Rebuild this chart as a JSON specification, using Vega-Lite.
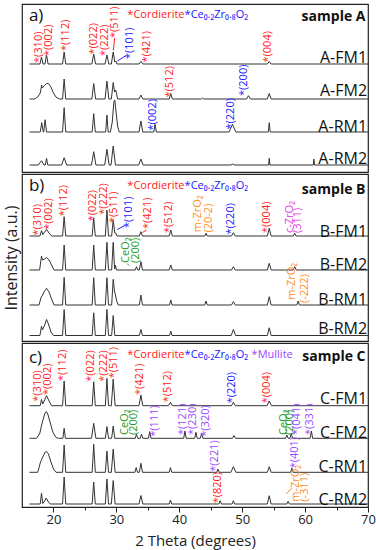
{
"$schema":"https://vega.github.io/schema/vega-lite/v6.json",
"padding":{"left":2,"top":3,"right":9,"bottom":2},
"spacing":0,
"resolve":{"scale":{"x":"independent","y":"independent"}},
"config":{"font":"Open Sans","view":{"stroke":"#222","strokeWidth":1.2},"text":{"font":"Open Sans"}},
"datasets":{
"traces":[
{"p":"a","s":"A-FM1","x":16.2,"y":108},{"p":"a","s":"A-FM1","x":17.85,"y":108},{"p":"a","s":"A-FM1","x":18.1,"y":115},{"p":"a","s":"A-FM1","x":18.35,"y":108},{"p":"a","s":"A-FM1","x":18.65,"y":108},{"p":"a","s":"A-FM1","x":18.9,"y":117},{"p":"a","s":"A-FM1","x":19.15,"y":108},{"p":"a","s":"A-FM1","x":21.45,"y":108},{"p":"a","s":"A-FM1","x":21.7,"y":120},{"p":"a","s":"A-FM1","x":21.95,"y":108},{"p":"a","s":"A-FM1","x":26.1,"y":108},{"p":"a","s":"A-FM1","x":26.4,"y":118},{"p":"a","s":"A-FM1","x":26.7,"y":108},{"p":"a","s":"A-FM1","x":28.2,"y":108},{"p":"a","s":"A-FM1","x":28.5,"y":117},{"p":"a","s":"A-FM1","x":28.8,"y":108},{"p":"a","s":"A-FM1","x":29.2,"y":108},{"p":"a","s":"A-FM1","x":29.5,"y":120},{"p":"a","s":"A-FM1","x":29.75,"y":110},{"p":"a","s":"A-FM1","x":29.9,"y":111},{"p":"a","s":"A-FM1","x":30.1,"y":108},{"p":"a","s":"A-FM1","x":33.6,"y":108},{"p":"a","s":"A-FM1","x":33.9,"y":110.5},{"p":"a","s":"A-FM1","x":34.2,"y":108},{"p":"a","s":"A-FM1","x":54.0,"y":108},{"p":"a","s":"A-FM1","x":54.3,"y":110.5},{"p":"a","s":"A-FM1","x":54.6,"y":108},{"p":"a","s":"A-FM1","x":70,"y":108},
{"p":"a","s":"A-FM2","x":16.2,"y":73},{"p":"a","s":"A-FM2","x":17.0,"y":73},{"p":"a","s":"A-FM2","x":17.5,"y":75},{"p":"a","s":"A-FM2","x":17.9,"y":79},{"p":"a","s":"A-FM2","x":18.05,"y":84},{"p":"a","s":"A-FM2","x":18.12,"y":87},{"p":"a","s":"A-FM2","x":18.2,"y":84},{"p":"a","s":"A-FM2","x":18.5,"y":86},{"p":"a","s":"A-FM2","x":18.9,"y":88.5},{"p":"a","s":"A-FM2","x":19.2,"y":88.5},{"p":"a","s":"A-FM2","x":19.6,"y":85},{"p":"a","s":"A-FM2","x":20.0,"y":79},{"p":"a","s":"A-FM2","x":20.4,"y":75},{"p":"a","s":"A-FM2","x":20.9,"y":73},{"p":"a","s":"A-FM2","x":21.45,"y":73},{"p":"a","s":"A-FM2","x":21.7,"y":93},{"p":"a","s":"A-FM2","x":21.95,"y":73},{"p":"a","s":"A-FM2","x":26.1,"y":73},{"p":"a","s":"A-FM2","x":26.4,"y":88.5},{"p":"a","s":"A-FM2","x":26.7,"y":73},{"p":"a","s":"A-FM2","x":28.2,"y":73},{"p":"a","s":"A-FM2","x":28.5,"y":91},{"p":"a","s":"A-FM2","x":28.8,"y":73},{"p":"a","s":"A-FM2","x":29.2,"y":73},{"p":"a","s":"A-FM2","x":29.5,"y":89.5},{"p":"a","s":"A-FM2","x":29.72,"y":80},{"p":"a","s":"A-FM2","x":29.9,"y":82},{"p":"a","s":"A-FM2","x":30.2,"y":73},{"p":"a","s":"A-FM2","x":33.6,"y":73},{"p":"a","s":"A-FM2","x":33.9,"y":77},{"p":"a","s":"A-FM2","x":34.2,"y":73},{"p":"a","s":"A-FM2","x":38.4,"y":73},{"p":"a","s":"A-FM2","x":38.65,"y":78.5},{"p":"a","s":"A-FM2","x":38.9,"y":73},{"p":"a","s":"A-FM2","x":43.5,"y":73},{"p":"a","s":"A-FM2","x":43.7,"y":74},{"p":"a","s":"A-FM2","x":43.9,"y":73},{"p":"a","s":"A-FM2","x":50.7,"y":73},{"p":"a","s":"A-FM2","x":51.0,"y":76.3},{"p":"a","s":"A-FM2","x":51.3,"y":73},{"p":"a","s":"A-FM2","x":54.0,"y":73},{"p":"a","s":"A-FM2","x":54.3,"y":78.5},{"p":"a","s":"A-FM2","x":54.6,"y":73},{"p":"a","s":"A-FM2","x":70,"y":73},
{"p":"a","s":"A-RM1","x":16.2,"y":40},{"p":"a","s":"A-RM1","x":17.9,"y":40},{"p":"a","s":"A-RM1","x":18.14,"y":49.3},{"p":"a","s":"A-RM1","x":18.38,"y":40},{"p":"a","s":"A-RM1","x":18.45,"y":40},{"p":"a","s":"A-RM1","x":18.67,"y":52.3},{"p":"a","s":"A-RM1","x":18.9,"y":40},{"p":"a","s":"A-RM1","x":21.45,"y":40},{"p":"a","s":"A-RM1","x":21.7,"y":64.3},{"p":"a","s":"A-RM1","x":21.95,"y":40},{"p":"a","s":"A-RM1","x":26.15,"y":40},{"p":"a","s":"A-RM1","x":26.4,"y":58.3},{"p":"a","s":"A-RM1","x":26.65,"y":40},{"p":"a","s":"A-RM1","x":28.3,"y":40},{"p":"a","s":"A-RM1","x":28.5,"y":57},{"p":"a","s":"A-RM1","x":28.7,"y":40},{"p":"a","s":"A-RM1","x":29.05,"y":40},{"p":"a","s":"A-RM1","x":29.35,"y":50},{"p":"a","s":"A-RM1","x":29.6,"y":70},{"p":"a","s":"A-RM1","x":29.75,"y":72},{"p":"a","s":"A-RM1","x":29.95,"y":60},{"p":"a","s":"A-RM1","x":30.2,"y":46},{"p":"a","s":"A-RM1","x":30.45,"y":40},{"p":"a","s":"A-RM1","x":33.6,"y":40},{"p":"a","s":"A-RM1","x":33.9,"y":51},{"p":"a","s":"A-RM1","x":34.2,"y":40},{"p":"a","s":"A-RM1","x":35.95,"y":40},{"p":"a","s":"A-RM1","x":36.15,"y":47.7},{"p":"a","s":"A-RM1","x":36.35,"y":40},{"p":"a","s":"A-RM1","x":47.9,"y":40},{"p":"a","s":"A-RM1","x":48.2,"y":44},{"p":"a","s":"A-RM1","x":48.45,"y":47.7},{"p":"a","s":"A-RM1","x":48.7,"y":44},{"p":"a","s":"A-RM1","x":49.0,"y":40},{"p":"a","s":"A-RM1","x":54.15,"y":40},{"p":"a","s":"A-RM1","x":54.3,"y":49.3},{"p":"a","s":"A-RM1","x":54.45,"y":40},{"p":"a","s":"A-RM1","x":70,"y":40},
{"p":"a","s":"A-RM2","x":16.2,"y":7},{"p":"a","s":"A-RM2","x":17.6,"y":7},{"p":"a","s":"A-RM2","x":18.1,"y":11.3},{"p":"a","s":"A-RM2","x":18.5,"y":7},{"p":"a","s":"A-RM2","x":18.7,"y":7},{"p":"a","s":"A-RM2","x":18.9,"y":13.7},{"p":"a","s":"A-RM2","x":19.1,"y":7},{"p":"a","s":"A-RM2","x":21.3,"y":7},{"p":"a","s":"A-RM2","x":21.7,"y":14.3},{"p":"a","s":"A-RM2","x":22.1,"y":7},{"p":"a","s":"A-RM2","x":26.05,"y":7},{"p":"a","s":"A-RM2","x":26.4,"y":20.3},{"p":"a","s":"A-RM2","x":26.75,"y":7},{"p":"a","s":"A-RM2","x":28.15,"y":7},{"p":"a","s":"A-RM2","x":28.5,"y":22.7},{"p":"a","s":"A-RM2","x":28.85,"y":7},{"p":"a","s":"A-RM2","x":29.15,"y":7},{"p":"a","s":"A-RM2","x":29.5,"y":26},{"p":"a","s":"A-RM2","x":29.85,"y":7},{"p":"a","s":"A-RM2","x":33.55,"y":7},{"p":"a","s":"A-RM2","x":33.9,"y":13},{"p":"a","s":"A-RM2","x":34.25,"y":7},{"p":"a","s":"A-RM2","x":48.2,"y":7},{"p":"a","s":"A-RM2","x":48.5,"y":8},{"p":"a","s":"A-RM2","x":48.8,"y":7},{"p":"a","s":"A-RM2","x":54.2,"y":7},{"p":"a","s":"A-RM2","x":54.3,"y":13.7},{"p":"a","s":"A-RM2","x":54.4,"y":7},{"p":"a","s":"A-RM2","x":61.3,"y":7},{"p":"a","s":"A-RM2","x":61.4,"y":13},{"p":"a","s":"A-RM2","x":61.5,"y":7},{"p":"a","s":"A-RM2","x":70,"y":7},
{"p":"b","s":"B-FM1","x":16.2,"y":105},{"p":"b","s":"B-FM1","x":17.85,"y":105},{"p":"b","s":"B-FM1","x":18.1,"y":110.3},{"p":"b","s":"B-FM1","x":18.3,"y":106.5},{"p":"b","s":"B-FM1","x":18.6,"y":109},{"p":"b","s":"B-FM1","x":18.9,"y":111.7},{"p":"b","s":"B-FM1","x":19.3,"y":108},{"p":"b","s":"B-FM1","x":19.7,"y":105},{"p":"b","s":"B-FM1","x":21.45,"y":105},{"p":"b","s":"B-FM1","x":21.7,"y":124.3},{"p":"b","s":"B-FM1","x":21.95,"y":105},{"p":"b","s":"B-FM1","x":26.15,"y":105},{"p":"b","s":"B-FM1","x":26.4,"y":123.3},{"p":"b","s":"B-FM1","x":26.65,"y":105},{"p":"b","s":"B-FM1","x":28.25,"y":105},{"p":"b","s":"B-FM1","x":28.5,"y":131},{"p":"b","s":"B-FM1","x":28.75,"y":105},{"p":"b","s":"B-FM1","x":29.25,"y":105},{"p":"b","s":"B-FM1","x":29.5,"y":121},{"p":"b","s":"B-FM1","x":29.75,"y":108},{"p":"b","s":"B-FM1","x":29.9,"y":108},{"p":"b","s":"B-FM1","x":30.1,"y":105},{"p":"b","s":"B-FM1","x":33.65,"y":105},{"p":"b","s":"B-FM1","x":33.9,"y":109.3},{"p":"b","s":"B-FM1","x":34.15,"y":105},{"p":"b","s":"B-FM1","x":38.4,"y":105},{"p":"b","s":"B-FM1","x":38.65,"y":111},{"p":"b","s":"B-FM1","x":38.9,"y":105},{"p":"b","s":"B-FM1","x":44.05,"y":105},{"p":"b","s":"B-FM1","x":44.25,"y":107.7},{"p":"b","s":"B-FM1","x":44.45,"y":105},{"p":"b","s":"B-FM1","x":48.3,"y":105},{"p":"b","s":"B-FM1","x":48.6,"y":108.3},{"p":"b","s":"B-FM1","x":48.9,"y":105},{"p":"b","s":"B-FM1","x":54.0,"y":105},{"p":"b","s":"B-FM1","x":54.3,"y":112.7},{"p":"b","s":"B-FM1","x":54.6,"y":105},{"p":"b","s":"B-FM1","x":58.15,"y":105},{"p":"b","s":"B-FM1","x":58.35,"y":107.7},{"p":"b","s":"B-FM1","x":58.55,"y":105},{"p":"b","s":"B-FM1","x":70,"y":105},
{"p":"b","s":"B-FM2","x":16.2,"y":71},{"p":"b","s":"B-FM2","x":17.8,"y":71},{"p":"b","s":"B-FM2","x":18.1,"y":85},{"p":"b","s":"B-FM2","x":18.25,"y":81},{"p":"b","s":"B-FM2","x":18.6,"y":82},{"p":"b","s":"B-FM2","x":18.9,"y":83.5},{"p":"b","s":"B-FM2","x":19.3,"y":81},{"p":"b","s":"B-FM2","x":19.7,"y":76},{"p":"b","s":"B-FM2","x":20.1,"y":71},{"p":"b","s":"B-FM2","x":21.45,"y":71},{"p":"b","s":"B-FM2","x":21.7,"y":96},{"p":"b","s":"B-FM2","x":21.95,"y":71},{"p":"b","s":"B-FM2","x":26.15,"y":71},{"p":"b","s":"B-FM2","x":26.4,"y":96},{"p":"b","s":"B-FM2","x":26.65,"y":71},{"p":"b","s":"B-FM2","x":28.25,"y":71},{"p":"b","s":"B-FM2","x":28.5,"y":98.7},{"p":"b","s":"B-FM2","x":28.75,"y":71},{"p":"b","s":"B-FM2","x":29.25,"y":71},{"p":"b","s":"B-FM2","x":29.5,"y":98.7},{"p":"b","s":"B-FM2","x":29.72,"y":72},{"p":"b","s":"B-FM2","x":29.85,"y":76},{"p":"b","s":"B-FM2","x":30.0,"y":71},{"p":"b","s":"B-FM2","x":33.0,"y":71},{"p":"b","s":"B-FM2","x":33.2,"y":74.3},{"p":"b","s":"B-FM2","x":33.4,"y":71},{"p":"b","s":"B-FM2","x":33.65,"y":71},{"p":"b","s":"B-FM2","x":33.9,"y":79.3},{"p":"b","s":"B-FM2","x":34.15,"y":71},{"p":"b","s":"B-FM2","x":38.4,"y":71},{"p":"b","s":"B-FM2","x":38.65,"y":76},{"p":"b","s":"B-FM2","x":38.9,"y":71},{"p":"b","s":"B-FM2","x":48.3,"y":71},{"p":"b","s":"B-FM2","x":48.6,"y":74.3},{"p":"b","s":"B-FM2","x":48.9,"y":71},{"p":"b","s":"B-FM2","x":54.0,"y":71},{"p":"b","s":"B-FM2","x":54.3,"y":77.7},{"p":"b","s":"B-FM2","x":54.6,"y":71},{"p":"b","s":"B-FM2","x":58.1,"y":71},{"p":"b","s":"B-FM2","x":58.35,"y":74.3},{"p":"b","s":"B-FM2","x":58.6,"y":71},{"p":"b","s":"B-FM2","x":70,"y":71},
{"p":"b","s":"B-RM1","x":16.2,"y":36},{"p":"b","s":"B-RM1","x":17.7,"y":36},{"p":"b","s":"B-RM1","x":18.05,"y":44},{"p":"b","s":"B-RM1","x":18.2,"y":45},{"p":"b","s":"B-RM1","x":18.5,"y":49},{"p":"b","s":"B-RM1","x":18.9,"y":52.7},{"p":"b","s":"B-RM1","x":19.3,"y":49},{"p":"b","s":"B-RM1","x":19.7,"y":42},{"p":"b","s":"B-RM1","x":20.1,"y":36},{"p":"b","s":"B-RM1","x":21.45,"y":36},{"p":"b","s":"B-RM1","x":21.7,"y":63.7},{"p":"b","s":"B-RM1","x":21.95,"y":36},{"p":"b","s":"B-RM1","x":26.15,"y":36},{"p":"b","s":"B-RM1","x":26.4,"y":63.3},{"p":"b","s":"B-RM1","x":26.65,"y":36},{"p":"b","s":"B-RM1","x":28.25,"y":36},{"p":"b","s":"B-RM1","x":28.5,"y":63.3},{"p":"b","s":"B-RM1","x":28.75,"y":36},{"p":"b","s":"B-RM1","x":29.25,"y":36},{"p":"b","s":"B-RM1","x":29.5,"y":61.7},{"p":"b","s":"B-RM1","x":29.7,"y":50},{"p":"b","s":"B-RM1","x":29.85,"y":46},{"p":"b","s":"B-RM1","x":30.05,"y":40},{"p":"b","s":"B-RM1","x":30.3,"y":36},{"p":"b","s":"B-RM1","x":33.65,"y":36},{"p":"b","s":"B-RM1","x":33.9,"y":46},{"p":"b","s":"B-RM1","x":34.15,"y":36},{"p":"b","s":"B-RM1","x":38.45,"y":36},{"p":"b","s":"B-RM1","x":38.65,"y":41},{"p":"b","s":"B-RM1","x":38.85,"y":36},{"p":"b","s":"B-RM1","x":44.05,"y":36},{"p":"b","s":"B-RM1","x":44.25,"y":40},{"p":"b","s":"B-RM1","x":44.45,"y":36},{"p":"b","s":"B-RM1","x":48.3,"y":36},{"p":"b","s":"B-RM1","x":48.6,"y":39.3},{"p":"b","s":"B-RM1","x":48.9,"y":36},{"p":"b","s":"B-RM1","x":54.0,"y":36},{"p":"b","s":"B-RM1","x":54.3,"y":44.3},{"p":"b","s":"B-RM1","x":54.6,"y":36},{"p":"b","s":"B-RM1","x":58.7,"y":36},{"p":"b","s":"B-RM1","x":58.9,"y":40},{"p":"b","s":"B-RM1","x":59.1,"y":36},{"p":"b","s":"B-RM1","x":70,"y":36},
{"p":"b","s":"B-RM2","x":16.2,"y":5.5},{"p":"b","s":"B-RM2","x":17.85,"y":5.5},{"p":"b","s":"B-RM2","x":18.1,"y":14.8},{"p":"b","s":"B-RM2","x":18.25,"y":11},{"p":"b","s":"B-RM2","x":18.6,"y":16},{"p":"b","s":"B-RM2","x":18.9,"y":21.5},{"p":"b","s":"B-RM2","x":19.2,"y":17},{"p":"b","s":"B-RM2","x":19.6,"y":9},{"p":"b","s":"B-RM2","x":20.0,"y":5.5},{"p":"b","s":"B-RM2","x":21.45,"y":5.5},{"p":"b","s":"B-RM2","x":21.7,"y":31.5},{"p":"b","s":"B-RM2","x":21.95,"y":5.5},{"p":"b","s":"B-RM2","x":26.15,"y":5.5},{"p":"b","s":"B-RM2","x":26.4,"y":28.2},{"p":"b","s":"B-RM2","x":26.65,"y":5.5},{"p":"b","s":"B-RM2","x":28.25,"y":5.5},{"p":"b","s":"B-RM2","x":28.5,"y":31.5},{"p":"b","s":"B-RM2","x":28.75,"y":5.5},{"p":"b","s":"B-RM2","x":29.25,"y":5.5},{"p":"b","s":"B-RM2","x":29.5,"y":25.5},{"p":"b","s":"B-RM2","x":29.75,"y":5.5},{"p":"b","s":"B-RM2","x":33.65,"y":5.5},{"p":"b","s":"B-RM2","x":33.9,"y":11.5},{"p":"b","s":"B-RM2","x":34.15,"y":5.5},{"p":"b","s":"B-RM2","x":38.45,"y":5.5},{"p":"b","s":"B-RM2","x":38.65,"y":9.8},{"p":"b","s":"B-RM2","x":38.85,"y":5.5},{"p":"b","s":"B-RM2","x":48.25,"y":5.5},{"p":"b","s":"B-RM2","x":48.6,"y":11.5},{"p":"b","s":"B-RM2","x":48.95,"y":5.5},{"p":"b","s":"B-RM2","x":54.0,"y":5.5},{"p":"b","s":"B-RM2","x":54.3,"y":13.2},{"p":"b","s":"B-RM2","x":54.6,"y":5.5},{"p":"b","s":"B-RM2","x":70,"y":5.5},
{"p":"c","s":"C-FM1","x":16.2,"y":101.3},{"p":"c","s":"C-FM1","x":17.9,"y":101.3},{"p":"c","s":"C-FM1","x":18.1,"y":107.6},{"p":"c","s":"C-FM1","x":18.3,"y":103},{"p":"c","s":"C-FM1","x":18.6,"y":107},{"p":"c","s":"C-FM1","x":18.9,"y":111.3},{"p":"c","s":"C-FM1","x":19.3,"y":106},{"p":"c","s":"C-FM1","x":19.7,"y":101.3},{"p":"c","s":"C-FM1","x":21.45,"y":101.3},{"p":"c","s":"C-FM1","x":21.7,"y":126},{"p":"c","s":"C-FM1","x":21.95,"y":101.3},{"p":"c","s":"C-FM1","x":26.15,"y":101.3},{"p":"c","s":"C-FM1","x":26.4,"y":125.3},{"p":"c","s":"C-FM1","x":26.65,"y":101.3},{"p":"c","s":"C-FM1","x":28.25,"y":101.3},{"p":"c","s":"C-FM1","x":28.5,"y":128.6},{"p":"c","s":"C-FM1","x":28.75,"y":101.3},{"p":"c","s":"C-FM1","x":29.2,"y":101.3},{"p":"c","s":"C-FM1","x":29.5,"y":128},{"p":"c","s":"C-FM1","x":29.8,"y":101.3},{"p":"c","s":"C-FM1","x":33.6,"y":101.3},{"p":"c","s":"C-FM1","x":33.9,"y":112},{"p":"c","s":"C-FM1","x":34.2,"y":101.3},{"p":"c","s":"C-FM1","x":38.3,"y":101.3},{"p":"c","s":"C-FM1","x":38.6,"y":104.6},{"p":"c","s":"C-FM1","x":38.9,"y":101.3},{"p":"c","s":"C-FM1","x":48.3,"y":101.3},{"p":"c","s":"C-FM1","x":48.6,"y":104.6},{"p":"c","s":"C-FM1","x":48.9,"y":101.3},{"p":"c","s":"C-FM1","x":53.95,"y":101.3},{"p":"c","s":"C-FM1","x":54.3,"y":106},{"p":"c","s":"C-FM1","x":54.65,"y":101.3},{"p":"c","s":"C-FM1","x":70,"y":101.3},
{"p":"c","s":"C-FM2","x":16.2,"y":68.7},{"p":"c","s":"C-FM2","x":17.3,"y":68.7},{"p":"c","s":"C-FM2","x":17.8,"y":73},{"p":"c","s":"C-FM2","x":18.2,"y":84},{"p":"c","s":"C-FM2","x":18.6,"y":93},{"p":"c","s":"C-FM2","x":18.85,"y":95.4},{"p":"c","s":"C-FM2","x":19.1,"y":93},{"p":"c","s":"C-FM2","x":19.5,"y":84},{"p":"c","s":"C-FM2","x":19.9,"y":75},{"p":"c","s":"C-FM2","x":20.4,"y":69.5},{"p":"c","s":"C-FM2","x":20.8,"y":68.7},{"p":"c","s":"C-FM2","x":21.5,"y":68.7},{"p":"c","s":"C-FM2","x":21.7,"y":78.7},{"p":"c","s":"C-FM2","x":21.9,"y":68.7},{"p":"c","s":"C-FM2","x":26.05,"y":68.7},{"p":"c","s":"C-FM2","x":26.4,"y":83.7},{"p":"c","s":"C-FM2","x":26.75,"y":68.7},{"p":"c","s":"C-FM2","x":28.25,"y":68.7},{"p":"c","s":"C-FM2","x":28.5,"y":80.4},{"p":"c","s":"C-FM2","x":28.75,"y":68.7},{"p":"c","s":"C-FM2","x":29.25,"y":68.7},{"p":"c","s":"C-FM2","x":29.5,"y":81},{"p":"c","s":"C-FM2","x":29.75,"y":68.7},{"p":"c","s":"C-FM2","x":33.0,"y":68.7},{"p":"c","s":"C-FM2","x":33.2,"y":72.7},{"p":"c","s":"C-FM2","x":33.4,"y":68.7},{"p":"c","s":"C-FM2","x":33.8,"y":68.7},{"p":"c","s":"C-FM2","x":34.0,"y":73},{"p":"c","s":"C-FM2","x":34.2,"y":68.7},{"p":"c","s":"C-FM2","x":35.1,"y":68.7},{"p":"c","s":"C-FM2","x":35.3,"y":75.4},{"p":"c","s":"C-FM2","x":35.5,"y":68.7},{"p":"c","s":"C-FM2","x":40.7,"y":68.7},{"p":"c","s":"C-FM2","x":40.9,"y":76},{"p":"c","s":"C-FM2","x":41.1,"y":68.7},{"p":"c","s":"C-FM2","x":42.45,"y":68.7},{"p":"c","s":"C-FM2","x":42.65,"y":74.7},{"p":"c","s":"C-FM2","x":42.85,"y":68.7},{"p":"c","s":"C-FM2","x":43.35,"y":68.7},{"p":"c","s":"C-FM2","x":43.55,"y":73.7},{"p":"c","s":"C-FM2","x":43.75,"y":68.7},{"p":"c","s":"C-FM2","x":48.45,"y":68.7},{"p":"c","s":"C-FM2","x":48.7,"y":71.4},{"p":"c","s":"C-FM2","x":48.95,"y":68.7},{"p":"c","s":"C-FM2","x":56.9,"y":68.7},{"p":"c","s":"C-FM2","x":57.1,"y":72},{"p":"c","s":"C-FM2","x":57.3,"y":68.7},{"p":"c","s":"C-FM2","x":57.6,"y":68.7},{"p":"c","s":"C-FM2","x":57.8,"y":73.7},{"p":"c","s":"C-FM2","x":58.0,"y":68.7},{"p":"c","s":"C-FM2","x":60.8,"y":68.7},{"p":"c","s":"C-FM2","x":61.0,"y":76},{"p":"c","s":"C-FM2","x":61.2,"y":68.7},{"p":"c","s":"C-FM2","x":70,"y":68.7},
{"p":"c","s":"C-RM1","x":16.2,"y":34.7},{"p":"c","s":"C-RM1","x":17.5,"y":34.7},{"p":"c","s":"C-RM1","x":17.9,"y":44},{"p":"c","s":"C-RM1","x":18.05,"y":46.5},{"p":"c","s":"C-RM1","x":18.3,"y":50},{"p":"c","s":"C-RM1","x":18.7,"y":55},{"p":"c","s":"C-RM1","x":18.9,"y":55.5},{"p":"c","s":"C-RM1","x":19.2,"y":53},{"p":"c","s":"C-RM1","x":19.6,"y":45},{"p":"c","s":"C-RM1","x":20.0,"y":38},{"p":"c","s":"C-RM1","x":20.4,"y":34.7},{"p":"c","s":"C-RM1","x":21.45,"y":34.7},{"p":"c","s":"C-RM1","x":21.7,"y":62},{"p":"c","s":"C-RM1","x":21.95,"y":34.7},{"p":"c","s":"C-RM1","x":26.15,"y":34.7},{"p":"c","s":"C-RM1","x":26.4,"y":62.7},{"p":"c","s":"C-RM1","x":26.65,"y":34.7},{"p":"c","s":"C-RM1","x":28.25,"y":34.7},{"p":"c","s":"C-RM1","x":28.5,"y":56},{"p":"c","s":"C-RM1","x":28.75,"y":34.7},{"p":"c","s":"C-RM1","x":29.2,"y":34.7},{"p":"c","s":"C-RM1","x":29.5,"y":58},{"p":"c","s":"C-RM1","x":29.8,"y":34.7},{"p":"c","s":"C-RM1","x":32.95,"y":34.7},{"p":"c","s":"C-RM1","x":33.15,"y":39.4},{"p":"c","s":"C-RM1","x":33.35,"y":34.7},{"p":"c","s":"C-RM1","x":33.65,"y":34.7},{"p":"c","s":"C-RM1","x":33.9,"y":43.7},{"p":"c","s":"C-RM1","x":34.15,"y":34.7},{"p":"c","s":"C-RM1","x":38.4,"y":34.7},{"p":"c","s":"C-RM1","x":38.6,"y":39.4},{"p":"c","s":"C-RM1","x":38.8,"y":34.7},{"p":"c","s":"C-RM1","x":45.95,"y":34.7},{"p":"c","s":"C-RM1","x":46.15,"y":38},{"p":"c","s":"C-RM1","x":46.35,"y":34.7},{"p":"c","s":"C-RM1","x":48.2,"y":34.7},{"p":"c","s":"C-RM1","x":48.6,"y":40.3},{"p":"c","s":"C-RM1","x":49.0,"y":34.7},{"p":"c","s":"C-RM1","x":54.0,"y":34.7},{"p":"c","s":"C-RM1","x":54.3,"y":40.3},{"p":"c","s":"C-RM1","x":54.6,"y":34.7},{"p":"c","s":"C-RM1","x":57.7,"y":34.7},{"p":"c","s":"C-RM1","x":57.9,"y":38.7},{"p":"c","s":"C-RM1","x":58.1,"y":34.7},{"p":"c","s":"C-RM1","x":70,"y":34.7},
{"p":"c","s":"C-RM2","x":16.2,"y":3},{"p":"c","s":"C-RM2","x":17.9,"y":3},{"p":"c","s":"C-RM2","x":18.1,"y":14},{"p":"c","s":"C-RM2","x":18.3,"y":3.5},{"p":"c","s":"C-RM2","x":18.5,"y":5},{"p":"c","s":"C-RM2","x":18.85,"y":9},{"p":"c","s":"C-RM2","x":19.2,"y":5},{"p":"c","s":"C-RM2","x":19.5,"y":3},{"p":"c","s":"C-RM2","x":21.45,"y":3},{"p":"c","s":"C-RM2","x":21.7,"y":30},{"p":"c","s":"C-RM2","x":21.95,"y":3},{"p":"c","s":"C-RM2","x":26.15,"y":3},{"p":"c","s":"C-RM2","x":26.4,"y":25},{"p":"c","s":"C-RM2","x":26.65,"y":3},{"p":"c","s":"C-RM2","x":28.25,"y":3},{"p":"c","s":"C-RM2","x":28.5,"y":28},{"p":"c","s":"C-RM2","x":28.75,"y":3},{"p":"c","s":"C-RM2","x":29.2,"y":3},{"p":"c","s":"C-RM2","x":29.5,"y":26.5},{"p":"c","s":"C-RM2","x":29.8,"y":3},{"p":"c","s":"C-RM2","x":33.6,"y":3},{"p":"c","s":"C-RM2","x":33.9,"y":11.5},{"p":"c","s":"C-RM2","x":34.2,"y":3},{"p":"c","s":"C-RM2","x":38.4,"y":3},{"p":"c","s":"C-RM2","x":38.6,"y":7},{"p":"c","s":"C-RM2","x":38.8,"y":3},{"p":"c","s":"C-RM2","x":46.3,"y":3},{"p":"c","s":"C-RM2","x":46.5,"y":6.3},{"p":"c","s":"C-RM2","x":46.7,"y":3},{"p":"c","s":"C-RM2","x":48.4,"y":3},{"p":"c","s":"C-RM2","x":48.6,"y":6.3},{"p":"c","s":"C-RM2","x":48.8,"y":3},{"p":"c","s":"C-RM2","x":54.0,"y":3},{"p":"c","s":"C-RM2","x":54.3,"y":11.3},{"p":"c","s":"C-RM2","x":54.6,"y":3},{"p":"c","s":"C-RM2","x":57.1,"y":3},{"p":"c","s":"C-RM2","x":57.3,"y":5.7},{"p":"c","s":"C-RM2","x":57.5,"y":3},{"p":"c","s":"C-RM2","x":70,"y":3}
],
"labels":[
{"p":"a","x":17.66,"y":109,"t":"*(310)","c":"cord"},{"p":"a","x":19.36,"y":116,"t":"*(002)","c":"cord"},{"p":"a","x":22.0,"y":121,"t":"*(112)","c":"cord"},{"p":"a","x":26.5,"y":117.5,"t":"*(022)","c":"cord"},{"p":"a","x":28.2,"y":116,"t":"*(222)","c":"cord"},{"p":"a","x":29.8,"y":134,"t":"*(511)","c":"cord"},{"p":"a","x":32.15,"y":113,"t":"*(101)","c":"cz"},{"p":"a","x":34.9,"y":109.5,"t":"*(421)","c":"cord"},{"p":"a","x":54.15,"y":109.5,"t":"*(004)","c":"cord"},{"p":"a","x":38.5,"y":74.5,"t":"*(512)","c":"cord"},{"p":"a","x":50.35,"y":76,"t":"*(200)","c":"cz"},{"p":"a","x":35.9,"y":41.5,"t":"*(002)","c":"cz"},{"p":"a","x":48.2,"y":42.5,"t":"*(220)","c":"cz"},
{"p":"b","x":17.5,"y":105.5,"t":"*(310)","c":"cord"},{"p":"b","x":19.26,"y":111.3,"t":"*(002)","c":"cord"},{"p":"b","x":21.75,"y":124.7,"t":"*(112)","c":"cord"},{"p":"b","x":26.28,"y":119.7,"t":"*(022)","c":"cord"},{"p":"b","x":28.1,"y":126.3,"t":"*(222)","c":"cord"},{"p":"b","x":29.7,"y":118,"t":"*(511)","c":"cord"},{"p":"b","x":32.0,"y":113,"t":"*(101)","c":"cz"},{"p":"b","x":35.05,"y":112,"t":"*(421)","c":"cord"},{"p":"b","x":38.4,"y":108,"t":"*(512)","c":"cord"},{"p":"b","x":42.9,"y":108.7,"t":"m-ZrO₂","c":"mzr"},{"p":"b","x":44.75,"y":108.5,"t":"(20-2)","c":"mzr"},{"p":"b","x":48.24,"y":106.5,"t":"*(220)","c":"cz"},{"p":"b","x":54.0,"y":108,"t":"*(004)","c":"cord"},{"p":"b","x":57.6,"y":108,"t":"c-ZrO₂","c":"czr"},{"p":"b","x":58.8,"y":108,"t":"(311)","c":"czr"},{"p":"b","x":31.6,"y":78,"t":"CeO₂","c":"ceo2"},{"p":"b","x":33.2,"y":78,"t":"(200)","c":"ceo2"},{"p":"b","x":57.9,"y":41.3,"t":"m-ZrO₂","c":"mzr"},{"p":"b","x":60.05,"y":38,"t":"(-222)","c":"mzr"},
{"p":"c","x":17.6,"y":105.3,"t":"*(310)","c":"cord"},{"p":"c","x":19.2,"y":112,"t":"*(002)","c":"cord"},{"p":"c","x":21.5,"y":126,"t":"*(112)","c":"cord"},{"p":"c","x":25.9,"y":125.3,"t":"*(022)","c":"cord"},{"p":"c","x":28.0,"y":125.3,"t":"*(222)","c":"cord"},{"p":"c","x":29.7,"y":128.7,"t":"*(511)","c":"cord"},{"p":"c","x":33.7,"y":112,"t":"*(421)","c":"cord"},{"p":"c","x":38.25,"y":104.7,"t":"*(512)","c":"cord"},{"p":"c","x":48.35,"y":103.7,"t":"*(220)","c":"cz"},{"p":"c","x":53.9,"y":103.7,"t":"*(004)","c":"cord"},{"p":"c","x":31.4,"y":72,"t":"CeO₂","c":"ceo2"},{"p":"c","x":32.8,"y":72,"t":"(200)","c":"ceo2"},{"p":"c","x":36.2,"y":70.3,"t":"*(111)","c":"mull"},{"p":"c","x":40.6,"y":72,"t":"*(121)","c":"mull"},{"p":"c","x":42.2,"y":72,"t":"*(230)","c":"mull"},{"p":"c","x":44.2,"y":70.3,"t":"*(320)","c":"mull"},{"p":"c","x":56.6,"y":72,"t":"CeO₂","c":"ceo2"},{"p":"c","x":57.6,"y":72,"t":"(200)","c":"ceo2"},{"p":"c","x":58.7,"y":72,"t":"*(041)","c":"mull"},{"p":"c","x":60.85,"y":72,"t":"*(331)","c":"mull"},{"p":"c","x":45.7,"y":35.3,"t":"*(221)","c":"mull"},{"p":"c","x":58.45,"y":38.7,"t":"*(401)","c":"mull"},{"p":"c","x":46.1,"y":3.7,"t":"*(820)","c":"cord"},{"p":"c","x":58.6,"y":5.3,"t":"m-ZrO₂","c":"mzr"},{"p":"c","x":60.05,"y":5.3,"t":"(-311)","c":"mzr"}
],
"arrows":[
{"p":"a","x":29.72,"y":134,"x2":29.52,"y2":121.5,"c":"cord"},{"p":"a","x":31.6,"y":116.7,"x2":30.16,"y2":111,"c":"cz"},
{"p":"b","x":31.5,"y":116,"x2":30.15,"y2":111.5,"c":"cz"},{"p":"b","x":34.8,"y":111,"x2":34.15,"y2":108.5,"c":"cord"},{"p":"b","x":31.75,"y":77.3,"x2":32.0,"y2":75.5,"c":"ceo2"},
{"p":"c","x":57.9,"y":19,"x2":57.0,"y2":13,"c":"mzr"}
],
"notes":[
{"p":"a","k":"letter","x":16.1,"y":156,"t":"a)"},{"p":"b","k":"letter","x":16.1,"y":155,"t":"b)"},{"p":"c","k":"letter","x":16.1,"y":148.7,"t":"c)"},
{"p":"a","k":"sample","x":69.6,"y":155,"t":"sample A"},{"p":"b","k":"sample","x":69.6,"y":151.3,"t":"sample B"},{"p":"c","k":"sample","x":69.6,"y":150.3,"t":"sample C"},
{"p":"a","k":"legend","x":31.75,"y":157,"t":"*Cordierite","c":"cord"},{"p":"a","k":"legend","x":40.85,"y":157,"t":"*Ce₀.₂Zr₀.₈O₂","c":"cz"},
{"p":"b","k":"legend","x":31.75,"y":155,"t":"*Cordierite","c":"cord"},{"p":"b","k":"legend","x":40.85,"y":155,"t":"*Ce₀.₂Zr₀.₈O₂","c":"cz"},
{"p":"c","k":"legend","x":31.75,"y":152,"t":"*Cordierite","c":"cord"},{"p":"c","k":"legend","x":40.85,"y":152,"t":"*Ce₀.₂Zr₀.₈O₂","c":"cz"},{"p":"c","k":"legend","x":51.5,"y":152,"t":"*Mullite","c":"mull"},
{"p":"a","k":"name","x":69.85,"y":109,"t":"A-FM1"},{"p":"a","k":"name","x":69.85,"y":76,"t":"A-FM2"},{"p":"a","k":"name","x":69.85,"y":40.5,"t":"A-RM1"},{"p":"a","k":"name","x":69.85,"y":8.5,"t":"A-RM2"},
{"p":"b","k":"name","x":69.85,"y":104.5,"t":"B-FM1"},{"p":"b","k":"name","x":69.85,"y":70.6,"t":"B-FM2"},{"p":"b","k":"name","x":69.85,"y":35.6,"t":"B-RM1"},{"p":"b","k":"name","x":69.85,"y":7.3,"t":"B-RM2"},
{"p":"c","k":"name","x":69.85,"y":103,"t":"C-FM1"},{"p":"c","k":"name","x":69.85,"y":69,"t":"C-FM2"},{"p":"c","k":"name","x":69.85,"y":34.6,"t":"C-RM1"},{"p":"c","k":"name","x":69.85,"y":2.3,"t":"C-RM2"}
]
},
"vconcat":[
{"width":346,"height":168,
"encoding":{"x":{"field":"x","type":"quantitative","scale":{"domain":[15,70],"nice":false,"zero":false},"axis":null},"y":{"field":"y","type":"quantitative","scale":{"domain":[0,168],"nice":false,"zero":false},"axis":null}},
"layer":[
{"data":{"name":"traces"},"transform":[{"filter":"datum.p==='a'"}],"mark":{"type":"line","stroke":"#333","strokeWidth":1},"encoding":{"detail":{"field":"s"}}},
{"data":{"name":"arrows"},"transform":[{"filter":"datum.p==='a'"}],"mark":{"type":"rule","strokeWidth":1},"encoding":{"x2":{"field":"x2"},"y2":{"field":"y2"},"color":{"field":"c","type":"nominal","scale":{"domain":["cord","cz","mull","ceo2","mzr","czr"],"range":["#ff2020","#2020ff","#9b45ff","#1a9a1a","#ff8c1a","#e03ce0"]},"legend":null}}},
{"data":{"name":"labels"},"transform":[{"filter":"datum.p==='a'"}],"mark":{"type":"text","angle":270,"align":"left","baseline":"middle","fontSize":11},"encoding":{"text":{"field":"t"},"color":{"field":"c","type":"nominal","scale":{"domain":["cord","cz","mull","ceo2","mzr","czr"],"range":["#ff2020","#2020ff","#9b45ff","#1a9a1a","#ff8c1a","#e03ce0"]},"legend":null}}},
{"data":{"name":"notes"},"transform":[{"filter":"datum.p==='a' && datum.k==='legend'"}],"mark":{"type":"text","align":"left","baseline":"middle","fontSize":11},"encoding":{"text":{"field":"t"},"color":{"field":"c","type":"nominal","scale":{"domain":["cord","cz","mull","ceo2","mzr","czr"],"range":["#ff2020","#2020ff","#9b45ff","#1a9a1a","#ff8c1a","#e03ce0"]},"legend":null}}},
{"data":{"name":"notes"},"transform":[{"filter":"datum.p==='a' && datum.k==='letter'"}],"mark":{"type":"text","align":"left","baseline":"middle","fontSize":17,"color":"#111"},"encoding":{"text":{"field":"t"}}},
{"data":{"name":"notes"},"transform":[{"filter":"datum.p==='a' && datum.k==='sample'"}],"mark":{"type":"text","align":"right","baseline":"middle","fontSize":14,"fontWeight":"bold","color":"#111"},"encoding":{"text":{"field":"t"}}},
{"data":{"name":"notes"},"transform":[{"filter":"datum.p==='a' && datum.k==='name'"}],"mark":{"type":"text","align":"right","baseline":"alphabetic","fontSize":16,"color":"#111"},"encoding":{"text":{"field":"t"}}}
]},
{"width":346,"height":167,
"encoding":{"x":{"field":"x","type":"quantitative","scale":{"domain":[15,70],"nice":false,"zero":false},"axis":null},"y":{"field":"y","type":"quantitative","scale":{"domain":[0,167],"nice":false,"zero":false},"axis":{"title":"Intensity (a.u.)","labels":false,"ticks":false,"domain":false,"grid":false,"titleFontSize":16,"titleFontWeight":"normal","titleColor":"#222","titlePadding":3,"titleFont":"Open Sans"}}},
"layer":[
{"data":{"name":"traces"},"transform":[{"filter":"datum.p==='b'"}],"mark":{"type":"line","stroke":"#333","strokeWidth":1},"encoding":{"detail":{"field":"s"}}},
{"data":{"name":"arrows"},"transform":[{"filter":"datum.p==='b'"}],"mark":{"type":"rule","strokeWidth":1},"encoding":{"x2":{"field":"x2"},"y2":{"field":"y2"},"color":{"field":"c","type":"nominal","scale":{"domain":["cord","cz","mull","ceo2","mzr","czr"],"range":["#ff2020","#2020ff","#9b45ff","#1a9a1a","#ff8c1a","#e03ce0"]},"legend":null}}},
{"data":{"name":"labels"},"transform":[{"filter":"datum.p==='b'"}],"mark":{"type":"text","angle":270,"align":"left","baseline":"middle","fontSize":11},"encoding":{"text":{"field":"t"},"color":{"field":"c","type":"nominal","scale":{"domain":["cord","cz","mull","ceo2","mzr","czr"],"range":["#ff2020","#2020ff","#9b45ff","#1a9a1a","#ff8c1a","#e03ce0"]},"legend":null}}},
{"data":{"name":"notes"},"transform":[{"filter":"datum.p==='b' && datum.k==='legend'"}],"mark":{"type":"text","align":"left","baseline":"middle","fontSize":11},"encoding":{"text":{"field":"t"},"color":{"field":"c","type":"nominal","scale":{"domain":["cord","cz","mull","ceo2","mzr","czr"],"range":["#ff2020","#2020ff","#9b45ff","#1a9a1a","#ff8c1a","#e03ce0"]},"legend":null}}},
{"data":{"name":"notes"},"transform":[{"filter":"datum.p==='b' && datum.k==='letter'"}],"mark":{"type":"text","align":"left","baseline":"middle","fontSize":17,"color":"#111"},"encoding":{"text":{"field":"t"}}},
{"data":{"name":"notes"},"transform":[{"filter":"datum.p==='b' && datum.k==='sample'"}],"mark":{"type":"text","align":"right","baseline":"middle","fontSize":14,"fontWeight":"bold","color":"#111"},"encoding":{"text":{"field":"t"}}},
{"data":{"name":"notes"},"transform":[{"filter":"datum.p==='b' && datum.k==='name'"}],"mark":{"type":"text","align":"right","baseline":"alphabetic","fontSize":16,"color":"#111"},"encoding":{"text":{"field":"t"}}}
]},
{"width":346,"height":164,
"encoding":{"x":{"field":"x","type":"quantitative","scale":{"domain":[15,70],"nice":false,"zero":false},"axis":{"title":"2 Theta (degrees)","values":[20,25,30,35,40,45,50,55,60,65,70],"labelExpr":"datum.value % 10 === 0 ? datum.label : ''","grid":false,"domain":false,"tickColor":"#222","tickSize":{"condition":{"test":"datum.value % 10 === 0","value":5},"value":3},"labelFontSize":13,"labelColor":"#222","labelPadding":1,"labelFlush":false,"labelOverlap":false,"titleFontSize":15,"titleFontWeight":"normal","titleColor":"#222","titlePadding":7,"labelFont":"Open Sans","titleFont":"Open Sans"}},"y":{"field":"y","type":"quantitative","scale":{"domain":[0,164],"nice":false,"zero":false},"axis":null}},
"layer":[
{"data":{"name":"traces"},"transform":[{"filter":"datum.p==='c'"}],"mark":{"type":"line","stroke":"#333","strokeWidth":1},"encoding":{"detail":{"field":"s"}}},
{"data":{"name":"arrows"},"transform":[{"filter":"datum.p==='c'"}],"mark":{"type":"rule","strokeWidth":1},"encoding":{"x2":{"field":"x2"},"y2":{"field":"y2"},"color":{"field":"c","type":"nominal","scale":{"domain":["cord","cz","mull","ceo2","mzr","czr"],"range":["#ff2020","#2020ff","#9b45ff","#1a9a1a","#ff8c1a","#e03ce0"]},"legend":null}}},
{"data":{"name":"labels"},"transform":[{"filter":"datum.p==='c'"}],"mark":{"type":"text","angle":270,"align":"left","baseline":"middle","fontSize":11},"encoding":{"text":{"field":"t"},"color":{"field":"c","type":"nominal","scale":{"domain":["cord","cz","mull","ceo2","mzr","czr"],"range":["#ff2020","#2020ff","#9b45ff","#1a9a1a","#ff8c1a","#e03ce0"]},"legend":null}}},
{"data":{"name":"notes"},"transform":[{"filter":"datum.p==='c' && datum.k==='legend'"}],"mark":{"type":"text","align":"left","baseline":"middle","fontSize":11},"encoding":{"text":{"field":"t"},"color":{"field":"c","type":"nominal","scale":{"domain":["cord","cz","mull","ceo2","mzr","czr"],"range":["#ff2020","#2020ff","#9b45ff","#1a9a1a","#ff8c1a","#e03ce0"]},"legend":null}}},
{"data":{"name":"notes"},"transform":[{"filter":"datum.p==='c' && datum.k==='letter'"}],"mark":{"type":"text","align":"left","baseline":"middle","fontSize":17,"color":"#111"},"encoding":{"text":{"field":"t"}}},
{"data":{"name":"notes"},"transform":[{"filter":"datum.p==='c' && datum.k==='sample'"}],"mark":{"type":"text","align":"right","baseline":"middle","fontSize":14,"fontWeight":"bold","color":"#111"},"encoding":{"text":{"field":"t"}}},
{"data":{"name":"notes"},"transform":[{"filter":"datum.p==='c' && datum.k==='name'"}],"mark":{"type":"text","align":"right","baseline":"alphabetic","fontSize":16,"color":"#111"},"encoding":{"text":{"field":"t"}}}
]}
]
}
